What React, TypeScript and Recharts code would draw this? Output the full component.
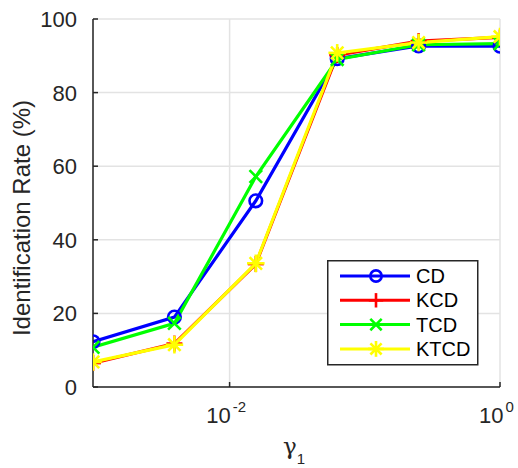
import React from 'react';
import { LineChart, Line, XAxis, YAxis, CartesianGrid, Legend } from 'recharts';

// gamma_1 values (powers of 1/4) and identification rates per method
const gammaValues = [0.0009765625, 0.00390625, 0.015625, 0.0625, 0.25, 1];
const cdRates = [12.3, 19.0, 50.6, 89.2, 92.7, 92.6];
const kcdRates = [6.5, 11.8, 33.4, 90.2, 94.0, 95.0];
const tcdRates = [10.8, 17.3, 57.2, 89.0, 93.0, 93.3];
const ktcdRates = [6.8, 11.5, 33.6, 90.8, 93.6, 95.2];

const xTicks = [0.01, 1];
const xTickExponents = ['-2', '0'];
const yTicks = [0, 20, 40, 60, 80, 100];

const series = [
  { key: 'CD', color: '#0000ff', marker: 'circle' },
  { key: 'KCD', color: '#ff0000', marker: 'plus' },
  { key: 'TCD', color: '#00ff00', marker: 'cross' },
  { key: 'KTCD', color: '#ffff00', marker: 'asterisk' },
];

const data = gammaValues.map((g, i) => ({
  gamma: g,
  CD: cdRates[i],
  KCD: kcdRates[i],
  TCD: tcdRates[i],
  KTCD: ktcdRates[i],
}));

const AXIS = '#262626';
const FONT = "'Liberation Sans', Arial, Helvetica, sans-serif";
const TICK_LEN = 5;

const Marker = ({ cx, cy, shape, color, scale = 1 }: { cx: number; cy: number; shape: string; color: string; scale?: number }) => {
  const sw = 2.6;
  if (shape === 'circle') {
    return <circle cx={cx} cy={cy} r={6.3 * scale} fill="none" stroke={color} strokeWidth={sw} />;
  }
  if (shape === 'plus') {
    const h = 8 * scale;
    return (
      <g stroke={color} strokeWidth={sw}>
        <line x1={cx - h} y1={cy} x2={cx + h} y2={cy} />
        <line x1={cx} y1={cy - h} x2={cx} y2={cy + h} />
      </g>
    );
  }
  if (shape === 'cross') {
    const h = 6.3 * scale;
    return (
      <g stroke={color} strokeWidth={sw}>
        <line x1={cx - h} y1={cy - h} x2={cx + h} y2={cy + h} />
        <line x1={cx - h} y1={cy + h} x2={cx + h} y2={cy - h} />
      </g>
    );
  }
  const h = 8.8 * scale;
  const d = 6.2 * scale;
  return (
    <g stroke={color} strokeWidth={sw}>
      <line x1={cx - h} y1={cy} x2={cx + h} y2={cy} />
      <line x1={cx} y1={cy - h} x2={cx} y2={cy + h} />
      <line x1={cx - d} y1={cy - d} x2={cx + d} y2={cy + d} />
      <line x1={cx - d} y1={cy + d} x2={cx + d} y2={cy - d} />
    </g>
  );
};

const BottomTick = ({ x, y, payload }: any) => {
  const i = xTicks.indexOf(payload.value);
  return (
    <g>
      <line x1={x} y1={y} x2={x} y2={y - TICK_LEN} stroke={AXIS} strokeWidth={1.5} />
      <text x={x - 3.5} y={y + 36} textAnchor="middle" fontSize={22} fontFamily={FONT} fill={AXIS}>
        <tspan>10</tspan>
        <tspan dx={2} dy={-11} fontSize={15}>{xTickExponents[i]}</tspan>
      </text>
    </g>
  );
};

const TopTick = ({ x, y }: any) => (
  <line x1={x} y1={y} x2={x} y2={y + TICK_LEN} stroke={AXIS} strokeWidth={1.5} />
);

const LeftTick = ({ x, y, payload }: any) => (
  <g>
    <line x1={x} y1={y} x2={x + TICK_LEN} y2={y} stroke={AXIS} strokeWidth={1.5} />
    <text x={x - 16} y={y + 8} textAnchor="end" fontSize={22} fontFamily={FONT} fill={AXIS}>
      {payload.value}
    </text>
  </g>
);

const RightTick = ({ x, y }: any) => (
  <line x1={x} y1={y} x2={x - TICK_LEN} y2={y} stroke={AXIS} strokeWidth={1.5} />
);

const renderLegend = () => (
  <svg width={152} height={106} style={{ display: 'block' }}>
    <rect x={0.75} y={0.75} width={150} height={104} fill="#ffffff" stroke={AXIS} strokeWidth={1.5} />
    {series.map((s, i) => {
      const cy = 16 + i * 24.3;
      return (
        <g key={s.key}>
          <line x1={13} y1={cy} x2={83} y2={cy} stroke={s.color} strokeWidth={3} />
          <Marker cx={49} cy={cy} shape={s.marker} color={s.color} scale={0.9} />
          <text x={89} y={cy + 7} fontSize={20} fontFamily={FONT} fill="#000000">
            {s.key}
          </text>
        </g>
      );
    })}
  </svg>
);

export default function App() {
  return (
    <div style={{ position: 'absolute', left: 0, top: 0, width: 518, height: 468, background: '#ffffff' }}>
      <LineChart width={518} height={468} data={data} margin={{ top: 19, right: 18, left: 0, bottom: 0 }}>
        <CartesianGrid stroke="#e3e3e3" strokeWidth={1.5} />
        <XAxis
          dataKey="gamma"
          type="number"
          scale="log"
          domain={[gammaValues[0], 1]}
          ticks={xTicks}
          height={81}
          tickSize={0}
          tickMargin={0}
          tickLine={false}
          tick={<BottomTick />}
          axisLine={{ stroke: AXIS, strokeWidth: 1.5 }}
          allowDataOverflow
        />
        <XAxis
          xAxisId="top"
          orientation="top"
          dataKey="gamma"
          type="number"
          scale="log"
          domain={[gammaValues[0], 1]}
          ticks={xTicks}
          height={0}
          tickSize={0}
          tickMargin={0}
          tickLine={false}
          tick={<TopTick />}
          axisLine={{ stroke: AXIS, strokeWidth: 1.5 }}
          allowDataOverflow
        />
        <YAxis
          type="number"
          domain={[0, 100]}
          ticks={yTicks}
          width={93}
          tickSize={0}
          tickMargin={0}
          tickLine={false}
          tick={<LeftTick />}
          axisLine={{ stroke: AXIS, strokeWidth: 1.5 }}
        />
        <YAxis
          yAxisId="right"
          orientation="right"
          type="number"
          domain={[0, 100]}
          ticks={yTicks}
          width={0}
          tickSize={0}
          tickMargin={0}
          tickLine={false}
          tick={<RightTick />}
          axisLine={{ stroke: AXIS, strokeWidth: 1.5 }}
        />
        {series.map((s) => (
          <Line
            key={s.key}
            dataKey={s.key}
            stroke={s.color}
            strokeWidth={3.2}
            isAnimationActive={false}
            activeDot={false}
            dot={(p: any) => (
              <Marker key={`${s.key}-${p.index}`} cx={p.cx} cy={p.cy} shape={s.marker} color={s.color} />
            )}
          />
        ))}
        <Legend
          layout="vertical"
          align="center"
          verticalAlign="middle"
          content={renderLegend}
          wrapperStyle={{ left: 327, top: 260, width: 152, height: 106 }}
        />
        <text
          transform="rotate(-90)"
          x={-218}
          y={30}
          textAnchor="middle"
          fontSize={24}
          fontFamily={FONT}
          fill={AXIS}
        >
          Identification Rate (%)
        </text>
        <text x={283} y={454} fontSize={23} fontFamily="'DejaVu Serif', 'Liberation Serif', serif" fill={AXIS}>
          γ
          <tspan dy={10} fontSize={15} fontFamily={FONT}>1</tspan>
        </text>
      </LineChart>
    </div>
  );
}
